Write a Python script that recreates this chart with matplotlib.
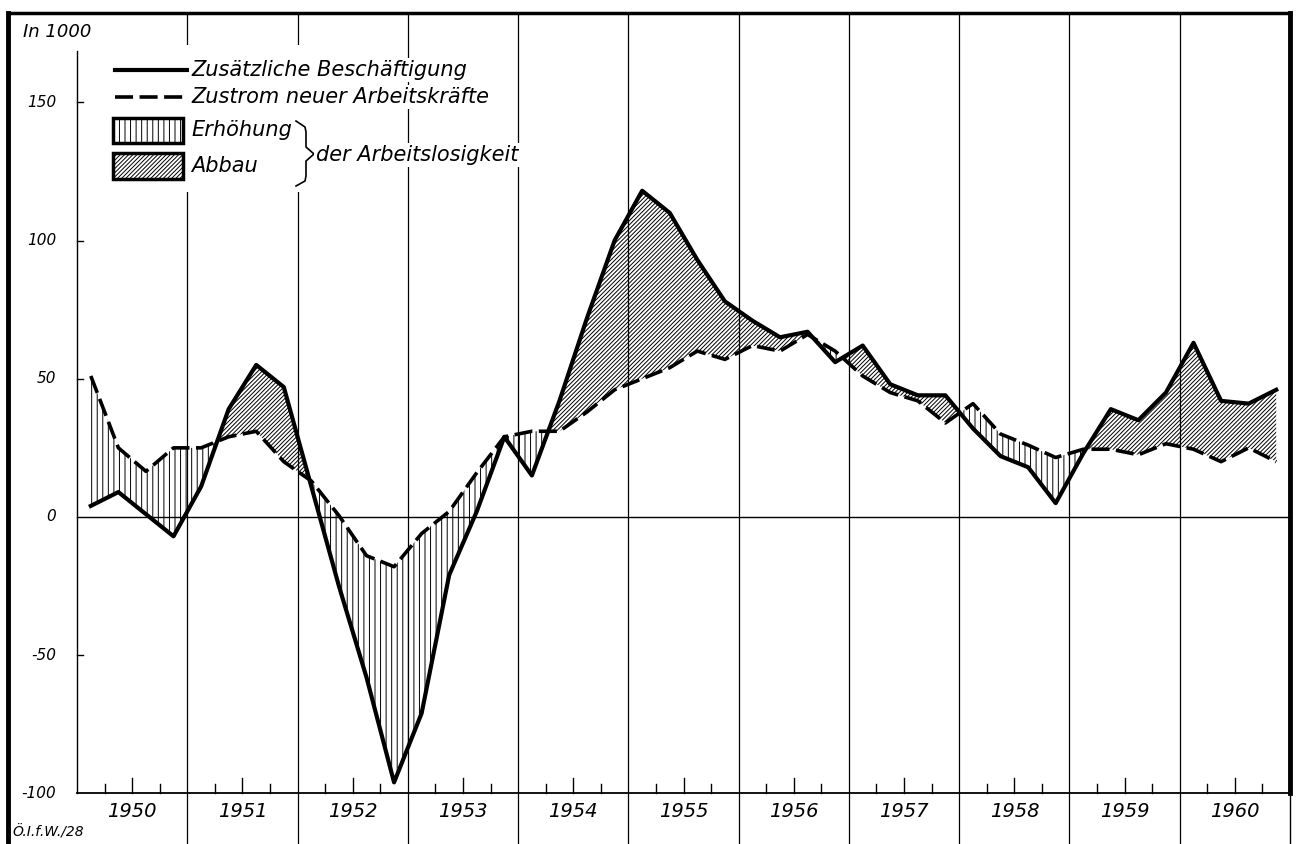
import matplotlib
matplotlib.use("Agg")
import matplotlib.pyplot as plt
import numpy as np
from matplotlib.patches import Rectangle

# quarterly values, in 1000
years = list(range(1950, 1961))
beschaeftigung = [4, 9, 1, -7,
                  11, 39, 55, 47,
                  11, -25, -58, -96,
                  -71, -21, 2, 29,
                  15, 42, 72, 100,
                  118, 110, 93, 78,
                  71, 65, 67, 56,
                  62, 48, 44, 44,
                  32, 22, 18, 5,
                  23, 39, 35, 45,
                  63, 42, 41, 46]
zustrom = [51, 25, 16.5, 25,
           25, 29, 31, 20,
           13, 0.5, -14, -18,
           -6, 2, 16, 29,
           31, 31, 38, 46,
           50, 54, 60, 57,
           62, 60, 66, 60,
           51, 45, 42, 34,
           41, 30, 26, 21.5,
           24.5, 24.5, 22.5, 26.5,
           24.5, 20, 25, 20]
y_ticks = [150, 100, 50, 0, -50, -100]

plt.rcParams["font.family"] = ["DejaVu Sans"]
plt.rcParams["font.style"] = "italic"
plt.rcParams["hatch.linewidth"] = 0.7

fig = plt.figure(figsize=(12.96, 8.44), dpi=100)
ax = fig.add_axes([8 / 1296, 0, 1282 / 1296, 831 / 844])
ax.set_xlim(1949.374, 1961)
ax.set_ylim(-118.3, 182.3)
ax.set_xticks([])
ax.set_yticks([])
for s in ["right", "bottom"]:
    ax.spines[s].set_visible(False)
ax.spines["left"].set_linewidth(3.5)
ax.spines["top"].set_linewidth(2.5)

x = np.arange(years[0], years[-1] + 1, 0.25) + 0.125
b = np.array(beschaeftigung)
z = np.array(zustrom)

# frame lines
for yr in years[1:]:
    ax.axvline(yr, color="black", lw=0.9, zorder=1)
ax.plot([1950, 1961], [0, 0], color="black", lw=1.0, zorder=1)
ax.plot([1950, 1961], [-100, -100], color="black", lw=1.3, zorder=1)
ax.plot([1950, 1950], [-100, 168.7], color="black", lw=1.0, zorder=1)
ax.plot([1961, 1961], [-100, 182.3], color="black", lw=3.5, clip_on=False)
ax.plot([1961, 1961], [-118.3, -100], color="black", lw=1.0, clip_on=False)

# ticks
for yr in years:
    for q, h in [(0.25, 3.3), (0.5, 5.5), (0.75, 3.3)]:
        ax.plot([yr + q, yr + q], [-100, -100 + h], color="black", lw=1.0)
for v in y_ticks[:3] + [-50]:
    ax.plot([1950, 1950.05], [v, v], color="black", lw=1.0)

for v in y_ticks:
    ax.text(1949.81, v, str(v), ha="right", va="center", fontsize=11)
for yr in years:
    ax.text(yr + 0.5, -106.7, str(yr), ha="center", va="center", fontsize=14)
ax.text(1949.51, 175.4, "In 1000", ha="left", va="center", fontsize=13)
ax.text(1949.41, -114, "Ö.I.f.W./28", ha="left", va="center", fontsize=10)

# areas
ax.fill_between(x, b, z, where=z >= b, interpolate=True, facecolor="none",
                edgecolor="black", hatch="|||", linewidth=0, zorder=2)
ax.fill_between(x, b, z, where=b >= z, interpolate=True, facecolor="none",
                edgecolor="black", hatch="////////", linewidth=0, zorder=2)
ax.plot(x, b, color="black", lw=3.0, zorder=4)
ax.plot(x, z, color="black", lw=2.6, linestyle=(0, (5, 1.8)), zorder=4)

# legend (pixel coordinates)
leg = fig.add_axes([0, 0, 1, 1], zorder=5)
leg.set_xlim(0, 1296)
leg.set_ylim(844, 0)
leg.axis("off")
leg.patch.set_alpha(0)
leg.add_patch(Rectangle((105, 45), 195, 147, facecolor="white", edgecolor="none"))
leg.plot([115, 188], [70, 70], color="black", lw=3.0)
leg.plot([115, 188], [97, 97], color="black", lw=2.6, linestyle=(0, (5, 1.8)))
leg.add_patch(Rectangle((113, 118), 70, 25, facecolor="white", edgecolor="black",
                        lw=2.5, hatch="|||"))
leg.add_patch(Rectangle((113, 153), 70, 26, facecolor="white", edgecolor="black",
                        lw=2.5, hatch="////////"))
txt = dict(fontsize=15, ha="left", va="center",
           bbox=dict(facecolor="white", edgecolor="none", pad=1.5))
leg.text(191, 70, "Zusätzliche Beschäftigung", **txt)
leg.text(191, 97, "Zustrom neuer Arbeitskräfte", **txt)
leg.text(191, 130, "Erhöhung", **txt)
leg.text(191, 166, "Abbau", **txt)
leg.text(316, 155, "der Arbeitslosigkeit", **txt)
leg.plot([296, 305, 306, 306, 314, 306, 306, 305, 296],
         [121, 127, 132, 147, 154, 161, 176, 181, 186], color="black", lw=1.2)

fig.savefig("out.png", dpi=100)
